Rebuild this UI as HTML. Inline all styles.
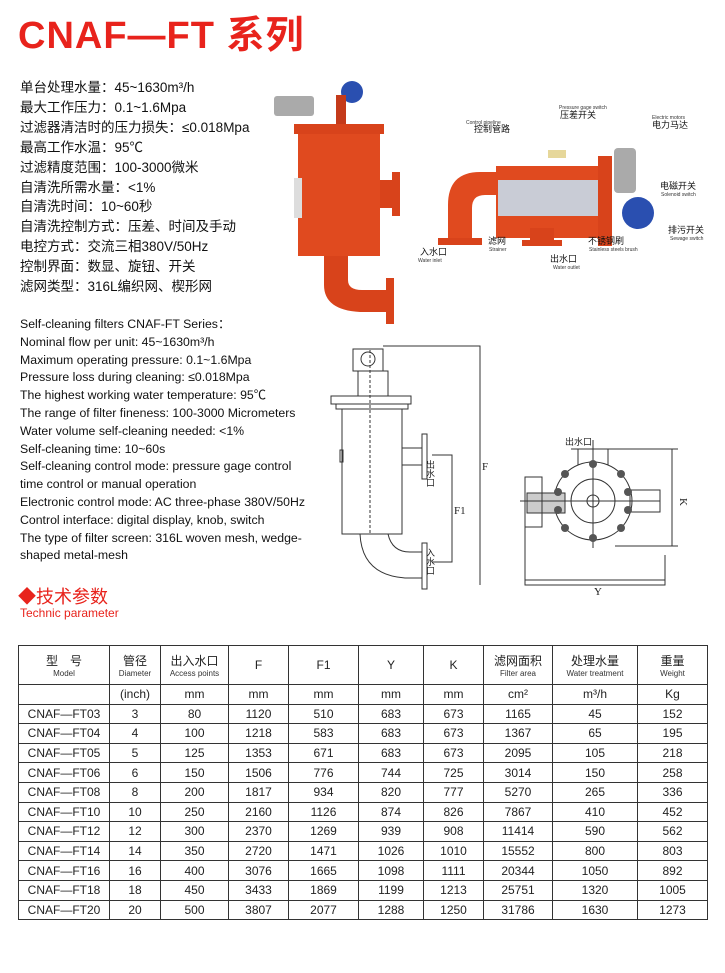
<!DOCTYPE html>
<html><head><meta charset="utf-8"><style>
body{margin:0;width:725px;height:973px;background:#fff;position:relative;font-family:"Liberation Sans","Noto Sans CJK SC",sans-serif;overflow:hidden}
.a{position:absolute;white-space:nowrap}
h1{position:absolute;left:18px;top:4px;margin:0;font-size:38px;color:#e8231c;font-weight:bold;letter-spacing:1px}
.cn{font-size:13.5px;line-height:19.9px;color:#111}
.en{font-size:12.3px;line-height:17.8px;color:#111}
table{position:absolute;left:18px;top:645px;border-collapse:collapse;font-size:12px;color:#222}
td{border:1px solid #333;text-align:center;padding:0;height:18.6px}
.s{font-size:8px;display:block;color:#333}
</style></head><body>
<h1>CNAF—FT 系列</h1>
<div class="a cn" style="left:20px;top:78px">单台处理水量：45~1630m³/h<br>最大工作压力：0.1~1.6Mpa<br>过滤器清洁时的压力损失：≤0.018Mpa<br>最高工作水温：95℃<br>过滤精度范围：100-3000微米<br>自清洗所需水量：&lt;1%<br>自清洗时间：10~60秒<br>自清洗控制方式：压差、时间及手动<br>电控方式：交流三相380V/50Hz<br>控制界面：数显、旋钮、开关<br>滤网类型：316L编织网、楔形网</div>
<div class="a en" style="left:20px;top:316px">Self-cleaning filters CNAF-FT Series：<br>Nominal flow per unit: 45~1630m³/h<br>Maximum operating pressure: 0.1~1.6Mpa<br>Pressure loss during cleaning: ≤0.018Mpa<br>The highest working water temperature: 95℃<br>The range of filter fineness: 100-3000 Micrometers<br>Water volume self-cleaning needed: &lt;1%<br>Self-cleaning time: 10~60s<br>Self-cleaning control mode: pressure gage control<br>time control or manual operation<br>Electronic control mode: AC three-phase 380V/50Hz<br>Control interface: digital display, knob, switch<br>The type of filter screen: 316L woven mesh, wedge-<br>shaped metal-mesh</div>
<div class="a" style="left:18px;top:583px;font-size:18px;color:#e8231c">◆技术参数</div>
<div class="a" style="left:20px;top:606px;font-size:12px;color:#e8231c">Technic parameter</div>

<svg class="a" style="left:0;top:0" width="725" height="640">
<rect x="274" y="96" width="40" height="20" fill="#aaa" rx="3"/>
<circle cx="352" cy="92" r="11" fill="#2a4fb0"/>
<rect x="336" y="95" width="10" height="35" fill="#c43a1a"/>
<rect x="298" y="126" width="82" height="130" fill="#e04a1f"/>
<rect x="294" y="124" width="90" height="10" fill="#d8431b"/>
<rect x="294" y="178" width="8" height="40" fill="#ddd"/>
<rect x="380" y="180" width="14" height="28" fill="#d8431b"/>
<rect x="392" y="172" width="8" height="44" fill="#d8431b"/>
<path d="M324 256 L324 285 Q324 310 360 312 L388 312 L388 290 L362 290 Q348 290 348 280 L348 256 Z" fill="#d8431b"/>
<rect x="386" y="278" width="8" height="46" fill="#d8431b"/>
<path d="M448 240 L448 205 Q448 172 480 172 L498 172 L498 195 L485 195 Q472 195 472 208 L472 240Z" fill="#e04a1f"/>
<rect x="438" y="238" width="44" height="7" fill="#d8431b"/>
<rect x="496" y="166" width="104" height="72" fill="#e04a1f"/>
<rect x="498" y="180" width="102" height="36" fill="#c9ccd6"/>
<rect x="530" y="228" width="24" height="14" fill="#d8431b"/>
<rect x="522" y="240" width="40" height="6" fill="#d8431b"/>
<rect x="598" y="156" width="14" height="90" fill="#d8431b"/>
<rect x="614" y="148" width="22" height="45" fill="#aaa" rx="4"/>
<circle cx="638" cy="213" r="16" fill="#2a4fb0"/>
<rect x="548" y="150" width="18" height="8" fill="#e6d79a"/>
<g font-size="9" fill="#111"><text x="560" y="118">压差开关</text><text x="474" y="132">控制管路</text><text x="652" y="128">电力马达</text><text x="660" y="189">电磁开关</text><text x="668" y="233">排污开关</text><text x="420" y="255">入水口</text><text x="488" y="244">滤网</text><text x="588" y="244">不锈钢刷</text><text x="550" y="262">出水口</text></g>
<g font-size="5" fill="#333"><text x="559" y="109">Pressure gage switch</text><text x="466" y="124">Control pipeline</text><text x="652" y="119">Electric motors</text><text x="661" y="196">Solenoid switch</text><text x="670" y="240">Sewage switch</text><text x="418" y="262">Water inlet</text><text x="489" y="251">Strainer</text><text x="589" y="251">Stainless steels brush</text><text x="553" y="269">Water outlet</text></g>
<g fill="none" stroke="#333" stroke-width="1">
<rect x="353" y="349" width="30" height="22"/><circle cx="368" cy="359" r="7"/>
<rect x="358" y="371" width="30" height="25"/>
<rect x="331" y="396" width="80" height="8"/><rect x="336" y="404" width="72" height="5"/>
<rect x="342" y="409" width="60" height="125"/>
<rect x="340" y="450" width="3" height="12"/>
<path d="M402 448 L422 448 M402 465 L422 465"/><rect x="422" y="434" width="5" height="45"/>
<path d="M360 534 Q362 575 405 578 L422 578 M388 534 Q392 552 410 552 L422 552"/><rect x="422" y="543" width="5" height="46"/>
<path d="M370 350 L370 534" stroke-dasharray="3,2"/>
<path d="M383 346 L480 346 L480 585 M432 455 L452 455 L452 562 L432 562"/>
</g>
<g font-size="11" fill="#222" font-family="Liberation Serif,serif"><text x="482" y="470">F</text><text x="454" y="514">F1</text></g>
<g font-size="9" fill="#222"><text x="430" y="460" writing-mode="tb">出水口</text><text x="430" y="548" writing-mode="tb">入水口</text></g>
<g fill="none" stroke="#333" stroke-width="1">
<circle cx="593" cy="501" r="39"/><circle cx="593" cy="501" r="22"/><circle cx="593" cy="501" r="6"/>
<rect x="527" y="493" width="38" height="20" fill="#ccc"/>
<rect x="525" y="477" width="17" height="50"/>
<path d="M571 449 L614 449 M593 440 L593 548 M520 501 L660 501 M578 449 L578 465 M608 449 L608 465"/>
<path d="M614 449 L678 449 M615 546 L678 546 M672 449 L672 546"/>
<path d="M525 525 L525 585 L665 585 L665 555 M525 580 L665 580"/>
<rect x="630" y="490" width="30" height="22"/>
</g>
<g fill="#555"><circle cx="593" cy="464" r="4"/><circle cx="593" cy="538" r="4"/><circle cx="558" cy="492" r="4"/><circle cx="628" cy="492" r="4"/><circle cx="565" cy="474" r="4"/><circle cx="621" cy="474" r="4"/><circle cx="565" cy="528" r="4"/><circle cx="621" cy="528" r="4"/><circle cx="558" cy="510" r="4"/><circle cx="628" cy="510" r="4"/></g>
<text x="565" y="445" font-size="9" fill="#222">出水口</text>
<text x="594" y="595" font-size="11" fill="#222" font-family="Liberation Serif,serif">Y</text>
<text x="678" y="500" font-size="11" fill="#222" font-family="Liberation Serif,serif" transform="rotate(90 680 500)">K</text>
</svg>

<table>
<colgroup><col style="width:91px"><col style="width:51px"><col style="width:68px"><col style="width:60px"><col style="width:70px"><col style="width:65px"><col style="width:60px"><col style="width:69px"><col style="width:85px"><col style="width:70px"></colgroup>
<tr style="height:39px"><td>型　号<span class="s">Model</span></td><td>管径<span class="s">Diameter</span></td><td>出入水口<span class="s">Access points</span></td><td>F</td><td>F1</td><td>Y</td><td>K</td><td>滤网面积<span class="s">Filter area</span></td><td>处理水量<span class="s">Water treatment</span></td><td>重量<span class="s">Weight</span></td></tr>
<tr><td></td><td>(inch)</td><td>mm</td><td>mm</td><td>mm</td><td>mm</td><td>mm</td><td>cm²</td><td>m³/h</td><td>Kg</td></tr>
<tr><td>CNAF—FT03</td><td>3</td><td>80</td><td>1120</td><td>510</td><td>683</td><td>673</td><td>1165</td><td>45</td><td>152</td></tr>
<tr><td>CNAF—FT04</td><td>4</td><td>100</td><td>1218</td><td>583</td><td>683</td><td>673</td><td>1367</td><td>65</td><td>195</td></tr>
<tr><td>CNAF—FT05</td><td>5</td><td>125</td><td>1353</td><td>671</td><td>683</td><td>673</td><td>2095</td><td>105</td><td>218</td></tr>
<tr><td>CNAF—FT06</td><td>6</td><td>150</td><td>1506</td><td>776</td><td>744</td><td>725</td><td>3014</td><td>150</td><td>258</td></tr>
<tr><td>CNAF—FT08</td><td>8</td><td>200</td><td>1817</td><td>934</td><td>820</td><td>777</td><td>5270</td><td>265</td><td>336</td></tr>
<tr><td>CNAF—FT10</td><td>10</td><td>250</td><td>2160</td><td>1126</td><td>874</td><td>826</td><td>7867</td><td>410</td><td>452</td></tr>
<tr><td>CNAF—FT12</td><td>12</td><td>300</td><td>2370</td><td>1269</td><td>939</td><td>908</td><td>11414</td><td>590</td><td>562</td></tr>
<tr><td>CNAF—FT14</td><td>14</td><td>350</td><td>2720</td><td>1471</td><td>1026</td><td>1010</td><td>15552</td><td>800</td><td>803</td></tr>
<tr><td>CNAF—FT16</td><td>16</td><td>400</td><td>3076</td><td>1665</td><td>1098</td><td>1111</td><td>20344</td><td>1050</td><td>892</td></tr>
<tr><td>CNAF—FT18</td><td>18</td><td>450</td><td>3433</td><td>1869</td><td>1199</td><td>1213</td><td>25751</td><td>1320</td><td>1005</td></tr>
<tr><td>CNAF—FT20</td><td>20</td><td>500</td><td>3807</td><td>2077</td><td>1288</td><td>1250</td><td>31786</td><td>1630</td><td>1273</td></tr>
</table>
</body></html>
